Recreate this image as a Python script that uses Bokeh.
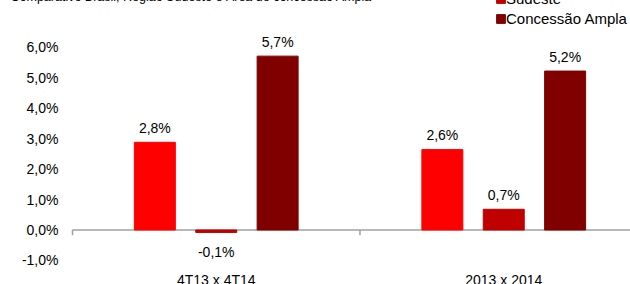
import numpy as np
from bokeh.plotting import figure
from bokeh.models import Range1d, FixedTicker, Legend, LegendItem, Label, ColumnDataSource
from bokeh.core.properties import value
from bokeh.embed import file_html
from bokeh.resources import INLINE

# ---- data ----
title_text = "Comparativo Brasil, Região Sudeste e Área de concessão Ampla"
categories = ["4T13 x 4T14", "2013 x 2014"]
series_names = ["Brasil", "Sudeste", "Concessão Ampla"]
brasil = [2.88, 2.64]
sudeste = [-0.08, 0.68]
ampla = [5.71, 5.22]
brasil_labels = ["2,8%", "2,6%"]
sudeste_labels = ["-0,1%", "0,7%"]
ampla_labels = ["5,7%", "5,2%"]
y_ticks = [-1, 0, 1, 2, 3, 4, 5, 6]
y_tick_labels = ["-1,0%", "0,0%", "1,0%", "2,0%", "3,0%", "4,0%", "5,0%", "6,0%"]

# ---- style ----
colors = ["#FF0000", "#C00000", "#800000"]
FONT = "Liberation Sans"
offsets = [-0.2135, 0.0, 0.2135]
bar_w = 0.1426

p = figure(width=630, height=324, output_backend="svg", toolbar_location=None,
           x_range=Range1d(-0.2504, 1.9409), y_range=Range1d(-1.790, 8.851),
           x_axis_location=None,
           min_border_left=0, min_border_right=0, min_border_top=0, min_border_bottom=0)
p.styles = {"margin-left": "0px", "margin-top": "-40px"}
p.outline_line_color = None
p.xgrid.visible = False
p.ygrid.visible = False
p.background_fill_color = "white"
p.border_fill_color = "white"

ya = p.yaxis[0]
ya.fixed_location = 0
ya.ticker = FixedTicker(ticks=y_ticks)
ya.major_label_overrides = {t: l for t, l in zip(y_ticks, y_tick_labels)}
ya.axis_line_color = None
ya.major_tick_line_color = None
ya.minor_tick_line_color = None
ya.major_tick_out = 0
ya.major_tick_in = 0
ya.major_label_standoff = 14
ya.major_label_text_font = FONT
ya.major_label_text_font_size = "14px"
ya.major_label_text_color = "#000000"

# zero line and category boundary ticks
ncat = len(categories)
p.segment(x0=[0], x1=[ncat], y0=[0], y1=[0], line_color="#a0a0a0", line_width=1.5)
bounds = np.arange(ncat)
p.segment(x0=bounds, x1=bounds, y0=np.zeros(ncat), y1=np.full(ncat, -0.17),
          line_color="#a0a0a0", line_width=1.5)

renderers = []
all_vals = [brasil, sudeste, ampla]
all_labels = [brasil_labels, sudeste_labels, ampla_labels]
centers = np.arange(ncat) + 0.5
for i, (vals, labs) in enumerate(zip(all_vals, all_labels)):
    xs = centers + offsets[i]
    src = ColumnDataSource(dict(x=xs, top=vals, lab=labs,
                                yo=[-14.5 if v >= 0 else 20 for v in vals]))
    r = p.vbar(x="x", top="top", bottom=0, width=bar_w, source=src,
               fill_color=colors[i], line_color=colors[i])
    renderers.append(r)
    p.text(x="x", y="top", text="lab", source=src, y_offset="yo",
           text_align="center", text_baseline="alphabetic",
           text_font=value(FONT), text_font_size="14px", text_color="#000000")

# category labels
csrc = ColumnDataSource(dict(x=centers, y=[-1.790] * ncat, t=categories))
p.text(x="x", y="y", text="t", source=csrc, y_offset=-4.5,
       text_align="center", text_baseline="alphabetic",
       text_font=value(FONT), text_font_size="14px", text_color="#000000")

legend = Legend(items=[LegendItem(label=n, renderers=[r]) for n, r in zip(series_names, renderers)],
                location=(495, 256), orientation="vertical",
                glyph_width=11, glyph_height=11, label_height=20, spacing=0,
                padding=0, margin=0, label_standoff=-3,
                border_line_color=None, background_fill_alpha=0,
                label_text_font=FONT, label_text_font_size="15px", label_text_color="#000000")
p.add_layout(legend)

p.add_layout(Label(x=10, y=287.5, x_units="screen", y_units="screen", text=title_text,
                   text_font=FONT, text_font_size="12.5px", text_color="#000000",
                   text_baseline="alphabetic"))

open("out.html", "w").write(file_html(p, INLINE))
